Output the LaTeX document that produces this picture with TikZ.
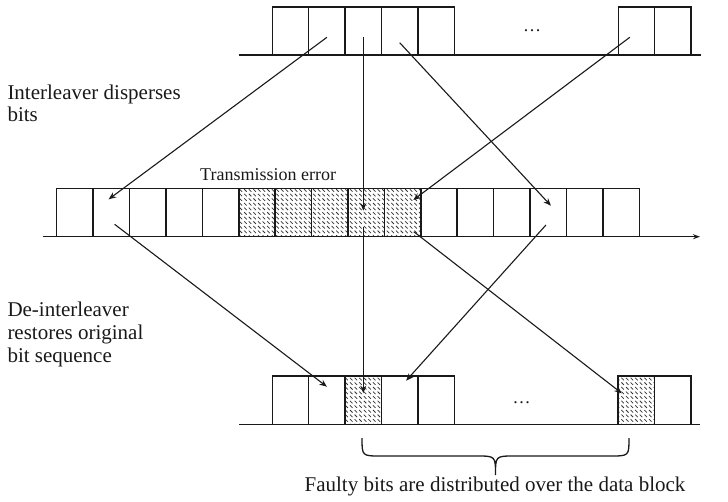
\documentclass[tikz,border=0pt]{standalone}
\usepackage{fontspec}
\setmainfont{Liberation Serif}
\usetikzlibrary{calc,patterns,arrows.meta}

\pgfdeclarepatternformonly{bithatch}{\pgfqpoint{-1pt}{-1pt}}{\pgfqpoint{6pt}{6pt}}{\pgfqpoint{4.6pt}{4.6pt}}{%
  \pgfsetlinewidth{0.75pt}%
  \pgfpathmoveto{\pgfqpoint{0.4pt}{3.6pt}}\pgfpathlineto{\pgfqpoint{2.9pt}{1.1pt}}%
  \pgfusepath{stroke}}

\tikzset{
  bitbox/.style={draw=black!90, line width=1.5pt, minimum width=36.4pt, minimum height=48.2pt, inner sep=0pt, outer sep=0pt},
  errbox/.style={bitbox, pattern=bithatch, pattern color=black!80},
  arr/.style={line width=1.1pt, draw=black!90, -{Stealth[length=7.5pt,width=6pt]}},
  baseln/.style={line width=1.2pt, draw=black!90},
  lbl/.style={inner sep=0pt, text=black!90},
}

\begin{document}
\begin{tikzpicture}[x=1pt,y=-1pt]
\useasboundingbox (0,0) rectangle (728,501);

% top row
\foreach \i in {1,...,5} \node[bitbox] (t\i) at ({272.3+36.4*(\i-0.5)},31) {};
\node[bitbox] (t6) at (636.5,31) {};
\node[bitbox] (t7) at (672.9,31) {};
\coordinate (tl) at (239,55);
\coordinate (tr) at (701,55);
\draw[baseln] (tl) -- (tr);
\node[lbl, font=\fontsize{18}{20}\selectfont] (tdots) at (532,31) {…};

% middle row
\foreach \i in {1,...,5,11,12,...,16} \node[bitbox] (m\i) at ({56.7+36.41*(\i-0.5)},212.5) {};
\foreach \i in {6,...,10} \node[errbox] (m\i) at ({56.7+36.41*(\i-0.5)},212.5) {};
\coordinate (ml) at (42.7,236.7);
\coordinate (mr) at (700,236.7);
\draw[baseln, -{Stealth[length=7pt,width=5pt]}] (ml) -- (mr);
\node[lbl, anchor=base west, font=\fontsize{18}{20}\selectfont] (terr) at (200,180) {Transmission error};

% bottom row
\foreach \i in {1,2,4,5} \node[bitbox] (b\i) at ({272.3+36.4*(\i-0.5)},400.2) {};
\node[errbox] (b3) at ({272.3+36.4*2.5},400.2) {};
\node[errbox] (b6) at (636.3,400.2) {};
\node[bitbox] (b7) at (672.7,400.2) {};
\coordinate (bl) at (239,424.3);
\coordinate (br) at (700,424.3);
\draw[baseln] (bl) -- (br);
\node[lbl, font=\fontsize{18}{20}\selectfont] (bdots) at (521.7,403) {…};

% interleaver arrows
\draw[arr] ($(t2)+(0,6.3)$) -- ($(m2)+(-2.7,-13.2)$);
\draw[arr] ($(t3)+(0,6)$) -- ($(t3 |- m9)+(0,-1.8)$);
\draw[arr] ($(t4)+(0,11.7)$) -- ($(m14)+(2.7,-6.8)$);
\draw[arr] ($(t6)+(-6.7,6.3)$) -- ($(m10)+(10.7,-12.5)$);

% de-interleaver arrows
\draw[arr] ($(m2)+(3.3,11.8)$) -- ($(b2)+(0,-13.5)$);
\draw[arr] ($(t3 |- m9)+(0,14)$) -- ($(b3)+(0,-7)$);
\draw[arr] ($(m14)+(-2.3,12.5)$) -- ($(b4)+(6.4,-19.5)$);
\draw[arr] ($(m10)+(11.2,19.2)$) -- ($(b6)+(-14.5,-6.9)$);

% brace
\coordinate (brl) at (362,438);
\coordinate (brr) at (629,438);
\coordinate (brt) at (495.5,475);
\draw[line width=1.3pt, draw=black!90] (brl) .. controls (362,456) .. (381,456) -- (476.5,456)
  .. controls (495.5,456) .. (brt) .. controls (495.5,456) .. (514.5,456) -- (610,456)
  .. controls (629,456) .. (brr);
\node[lbl, anchor=base, font=\fontsize{21}{24}\selectfont] (faulty) at (495,491.7) {Faulty bits are distributed over the data block};

% left labels
\node[lbl, anchor=base west, font=\fontsize{21}{24}\selectfont] (il1) at (7.3,99) {Interleaver disperses};
\node[lbl, anchor=base west, font=\fontsize{21}{24}\selectfont] (il2) at (7.3,121.7) {bits};
\node[lbl, anchor=base west, font=\fontsize{21}{24}\selectfont] (dl1) at (7.3,316) {De-interleaver};
\node[lbl, anchor=base west, font=\fontsize{21}{24}\selectfont] (dl2) at (7.3,339.3) {restores original};
\node[lbl, anchor=base west, font=\fontsize{21}{24}\selectfont] (dl3) at (7.3,362.3) {bit sequence};
\end{tikzpicture}
\end{document}
